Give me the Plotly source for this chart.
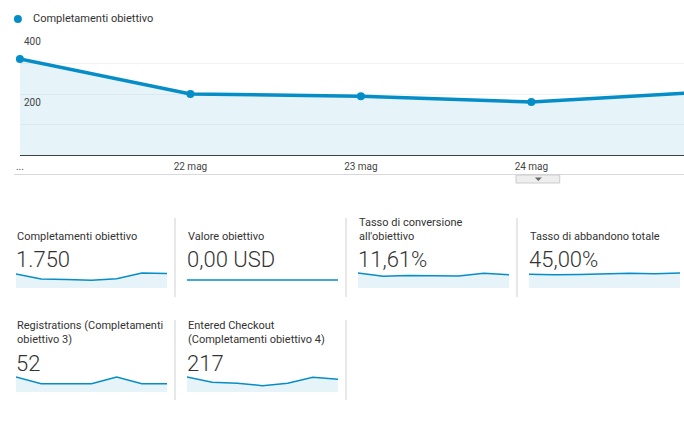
import plotly.graph_objects as go

W, H = 684, 429

# ---------------- data ----------------
dates = ["21 mag", "22 mag", "23 mag", "24 mag", "25 mag", "26 mag", "27 mag"]
date_tick_labels = ["...", "22 mag", "23 mag", "24 mag", "25 mag", "26 mag", "27 mag"]
completamenti = [315, 200, 193, 174, 206, 338, 324]
valore = [0, 0, 0, 0, 0, 0, 0]
tasso_conversione = [13.4, 10.4, 11.2, 10.7, 10.7, 13.2, 11.8]
tasso_abbandono = [44.1, 42.2, 43.1, 45.1, 47.0, 45.1, 48.0]
registrations = [11, 6, 6, 6, 11, 6, 6]
entered_checkout = [43, 28, 25, 18, 25, 42, 36]
y_tick_vals = [0, 100, 200, 300, 400]
y_tick_labels = ["", "", "200", "", "400"]

card_titles = ["Completamenti obiettivo", "Valore obiettivo",
               "Tasso di conversione<br>all'obiettivo", "Tasso di abbandono totale",
               "Registrations (Completamenti<br>obiettivo 3)",
               "Entered Checkout<br>(Completamenti obiettivo 4)"]
card_values = ["1.750", "0,00 USD", "11,61%", "45,00%", "52", "217"]
card_series = [completamenti, valore, tasso_conversione, tasso_abbandono,
               registrations, entered_checkout]

BLUE = "#058dc7"
FILL = "rgba(5,141,199,0.1)"
FONT = "Roboto"


def px(x):
    return x / W


def py(y):
    return 1 - y / H


fig = go.Figure()
idx = list(range(len(dates)))

# ---------------- main chart ----------------
fig.add_trace(go.Scatter(
    x=idx, y=completamenti, mode="lines+markers", fill="tozeroy",
    fillcolor=FILL, line=dict(color=BLUE, width=3.5),
    marker=dict(color=BLUE, size=8), cliponaxis=False, showlegend=False,
    xaxis="x", yaxis="y", hoverinfo="skip"))

spacing = 171.5
main_left, main_right = 16, 684
fig.update_layout(
    xaxis=dict(domain=[px(main_left), px(main_right)],
               range=[0, (main_right - main_left) / spacing],
               tickvals=idx, ticktext=date_tick_labels, showgrid=False,
               zeroline=False, showline=True, linecolor="#3a454a", linewidth=1,
               ticks="", ticklabelstandoff=2,
               tickfont=dict(family=FONT, size=10, color="#444"),
               anchor="y", fixedrange=True),
    yaxis=dict(domain=[py(155), py(33)], range=[0, 400], tickvals=y_tick_vals,
               showticklabels=False, showgrid=True, gridcolor="#f3f3f3",
               gridwidth=1, zeroline=False, showline=False, anchor="x",
               fixedrange=True),
)

annotations = []
for v, t in zip(y_tick_vals, y_tick_labels):
    if t:
        annotations.append(dict(x=px(18), xref="paper", y=v, yref="y", text=t,
                                showarrow=False, xanchor="left", yanchor="top",
                                yshift=-1, font=dict(family=FONT, size=10, color="#444")))

# legend
annotations.append(dict(x=px(27), y=py(18.5), xref="paper", yref="paper",
                        text="Completamenti obiettivo", showarrow=False,
                        xanchor="left", yanchor="middle",
                        font=dict(family=FONT, size=11, color="#333")))

shapes = [
    dict(type="circle", xref="paper", yref="paper", x0=px(10), x1=px(18),
         y0=py(23), y1=py(15), fillcolor=BLUE, line=dict(width=0)),
    dict(type="line", xref="paper", yref="paper", x0=px(10), x1=px(684),
         y0=py(174.5), y1=py(174.5), line=dict(color="#d9d9d9", width=1)),
    dict(type="rect", xref="paper", yref="paper", x0=px(515), x1=px(559),
         y0=py(183), y1=py(175), fillcolor="#eeeeee", line=dict(color="#cccccc", width=1)),
    dict(type="path", xref="paper", yref="paper",
         path=f"M {px(534)} {py(177.5)} L {px(541)} {py(177.5)} L {px(537.5)} {py(181)} Z",
         fillcolor="#666", line=dict(width=0)),
]

# ---------------- scorecards ----------------
col_left = [12, 184, 356, 528]
spark_w = 152
rows = [
    dict(title_bottom=245, value_y=259, spark_top=272, spark_bottom=288),
    dict(title_bottom=348, value_y=363, spark_top=376, spark_bottom=392),
]

for i, (title, value, series) in enumerate(zip(card_titles, card_values, card_series)):
    col, row = i % 4, i // 4
    r = rows[row]
    ax = i + 2
    x0 = col_left[col]
    mx = max(series)
    if mx == 0:
        yr = [-1, 1]
        fill = None
    else:
        yr = [0, mx * 1.06]
        fill = "tozeroy"
    fig.add_trace(go.Scatter(
        x=idx, y=series, mode="lines", fill=fill, fillcolor=FILL,
        line=dict(color=BLUE, width=1.5), showlegend=False,
        xaxis=f"x{ax}", yaxis=f"y{ax}", hoverinfo="skip"))
    fig.layout[f"xaxis{ax}"] = dict(domain=[px(x0), px(x0 + spark_w)], range=[0, len(idx) - 1],
                                   visible=False, fixedrange=True, anchor=f"y{ax}")
    fig.layout[f"yaxis{ax}"] = dict(domain=[py(r["spark_bottom"]), py(r["spark_top"])], range=yr,
                                   visible=False, fixedrange=True, anchor=f"x{ax}")
    annotations.append(dict(x=px(x0 - 1), y=py(r["title_bottom"]), xref="paper", yref="paper",
                            text=title, showarrow=False, xanchor="left", yanchor="bottom",
                            align="left", font=dict(family=FONT, size=11, color="#333")))
    annotations.append(dict(x=px(x0 - 2), y=py(r["value_y"]), xref="paper", yref="paper",
                            text=value, showarrow=False, xanchor="left", yanchor="middle",
                            font=dict(family=FONT, size=22, color="#333", weight=300)))

# separators
for x in [172, 344, 516]:
    shapes.append(dict(type="line", xref="paper", yref="paper", x0=px(x), x1=px(x),
                       y0=py(297), y1=py(218), line=dict(color="#d0d0d0", width=1)))
for x in [172, 344]:
    shapes.append(dict(type="line", xref="paper", yref="paper", x0=px(x), x1=px(x),
                       y0=py(400), y1=py(320), line=dict(color="#d0d0d0", width=1)))

fig.update_layout(
    width=W, height=H, margin=dict(l=0, r=0, t=0, b=0),
    paper_bgcolor="white", plot_bgcolor="white",
    annotations=annotations, shapes=shapes, showlegend=False,
    font=dict(family=FONT),
)

fig.write_html("out.html", config={"displayModeBar": False})
